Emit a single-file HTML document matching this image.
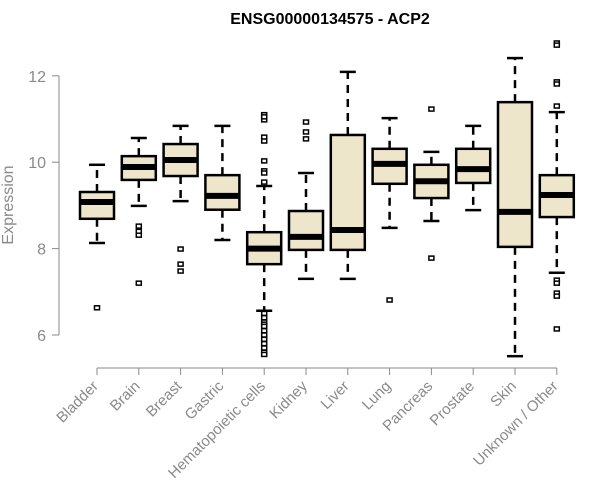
<!DOCTYPE html>
<html><head><meta charset="utf-8"><style>
body{margin:0;background:#fff}
svg{display:block;font-family:"Liberation Sans",Arial,sans-serif}
</style></head><body>
<svg id="chart" width="600" height="500" viewBox="0 0 600 500">
<text x="330" y="24" text-anchor="middle" font-weight="bold" font-size="16" fill="#000">ENSG00000134575 - ACP2</text>
<text transform="translate(13,205) rotate(-90)" text-anchor="middle" font-size="16" fill="#8a8a8a">Expression</text>
<g id="axes"></g>
<g id="boxes"></g>
</svg>
<script>
const categories=["Bladder","Brain","Breast","Gastric","Hematopoietic cells","Kidney","Liver","Lung","Pancreas","Prostate","Skin","Unknown / Other"];
const whiskerLow=[8.13,8.99,9.1,8.2,6.56,7.3,7.3,8.48,8.64,8.89,5.51,7.44];
const q1=[8.69,9.59,9.68,8.9,7.64,7.97,7.97,9.5,9.17,9.52,8.04,8.73];
const medians=[9.08,9.89,10.05,9.22,8.0,8.27,8.43,9.96,9.56,9.84,8.85,9.24];
const q3=[9.31,10.14,10.42,9.7,8.38,8.87,10.63,10.31,9.94,10.31,11.39,9.7];
const whiskerHigh=[9.94,10.56,10.84,10.84,9.45,9.75,12.09,11.02,10.24,10.84,12.41,11.16];
const outliers=[[6.63],[8.52,8.4,8.31,7.2],[7.99,7.64,7.48],[],
[11.1,10.98,11.05,10.58,10.49,10.03,9.8,9.75,9.54,6.5,6.4,6.3,6.25,6.2,6.1,6.0,5.9,5.8,5.7,5.6,5.55],
[10.93,10.7,10.54],[],[6.81],[11.23,7.78],[],[],
[12.76,12.71,11.86,11.81,11.3,7.27,7.2,6.97,6.9,6.14]];
const yTicks=[6,8,10,12];
const NS="http://www.w3.org/2000/svg";
const y=v=>335-(v-6)*43.2;
const x=i=>97+i*41.8;
function mk(tag,attrs,parent){const e=document.createElementNS(NS,tag);for(const k in attrs)e.setAttribute(k,attrs[k]);parent.appendChild(e);return e;}
const ax=document.getElementById('axes');
const yl=mk('line',{x1:59,x2:59,y1:y(12),y2:y(6),stroke:'#8a8a8a'},ax);


yTicks.forEach(t=>{
  const tk=mk('line',{x1:52,x2:59,y1:y(t),y2:y(t),stroke:'#8a8a8a'},ax);
  
  
  const tx=mk('text',{x:46,y:y(t)+6,'text-anchor':'end','font-size':16,fill:'#8a8a8a'},ax);
  tx.textContent=t;
  
  
});
const xl=mk('line',{x1:x(0),x2:x(categories.length-1),y1:368,y2:368,stroke:'#8a8a8a'},ax);


const bx=document.getElementById('boxes');
categories.forEach((c,i)=>{
  const cx=x(i);
  const tk=mk('line',{x1:cx,x2:cx,y1:368,y2:375,stroke:'#8a8a8a'},ax);
  
  
  const tx=mk('text',{transform:`translate(${cx+2},${387}) rotate(-45)`,'text-anchor':'end','font-size':15,fill:'#8a8a8a'},ax);
  tx.textContent=c;
  
  
  const g=mk('g',{},bx);
  
  
  const w=17;
  mk('line',{x1:cx,x2:cx,y1:y(q3[i]),y2:y(whiskerHigh[i]),stroke:'#000','stroke-width':2.5,'stroke-dasharray':'8,6'},g);
  mk('line',{x1:cx,x2:cx,y1:y(q1[i]),y2:y(whiskerLow[i]),stroke:'#000','stroke-width':2.5,'stroke-dasharray':'8,6'},g);
  mk('line',{x1:cx-8,x2:cx+8,y1:y(whiskerHigh[i]),y2:y(whiskerHigh[i]),stroke:'#000','stroke-width':2.5},g);
  mk('line',{x1:cx-8,x2:cx+8,y1:y(whiskerLow[i]),y2:y(whiskerLow[i]),stroke:'#000','stroke-width':2.5},g);
  mk('rect',{x:cx-w,y:y(q3[i]),width:2*w,height:y(q1[i])-y(q3[i]),fill:'#ede6cb',stroke:'#000','stroke-width':2.5},g);
  mk('line',{x1:cx-w,x2:cx+w,y1:y(medians[i]),y2:y(medians[i]),stroke:'#000','stroke-width':6},g);
  outliers[i].forEach(v=>{
    const o=mk('rect',{x:cx-2.5,y:y(v)-2,width:5,height:4,fill:'#fff',stroke:'#000','stroke-width':1.5},g);
    
    
  });
});
</script>
</body></html>
